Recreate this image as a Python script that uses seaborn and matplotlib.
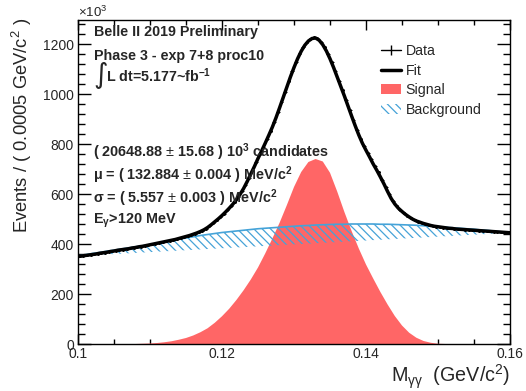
import numpy as np
import matplotlib
matplotlib.use("Agg")
import matplotlib.pyplot as plt
import seaborn as sns
from matplotlib.lines import Line2D
from matplotlib.patches import Patch
from matplotlib.ticker import MultipleLocator, FixedLocator, FixedFormatter

# ---------------- data (values in units of 10^3 events) ----------------
x_edges = [round(0.1 + 0.0005 * k, 4) for k in range(121)]
fit_vals = [350, 352, 354, 356, 358, 360, 363, 365, 367, 370,
            372, 375, 377, 379, 381, 384, 386, 389, 391, 394,
            397, 400, 403, 406, 409, 412, 415, 418, 422, 426,
            430, 434, 439, 444, 450, 457, 466, 477, 489, 501,
            514, 528, 543, 559, 577, 598, 622, 650, 680, 710,
            742, 772, 803, 835, 868, 905, 945, 986, 1027, 1068,
            1106, 1141, 1171, 1195, 1212, 1222, 1224, 1215, 1197, 1172,
            1141, 1106, 1068, 1030, 992, 952, 912, 873, 836, 803,
            775, 748, 720, 695, 668, 640, 610, 582, 560, 543,
            530, 518, 508, 499, 492, 487, 482, 478, 474, 471,
            469, 467, 465, 463, 462, 460, 459, 458, 457, 456,
            455, 454, 453, 452, 451, 450, 449, 448, 447, 446, 445]

bin_centers = [round(0.10025 + 0.0005 * k, 5) for k in range(120)]
data_vals = [351, 353, 355, 357, 359, 362, 364, 366, 369, 371,
             374, 376, 378, 380, 383, 385, 388, 390, 393, 396,
             399, 402, 405, 408, 411, 414, 417, 420, 424, 428,
             432, 437, 442, 447, 454, 462, 472, 484, 496, 508,
             522, 536, 552, 569, 588, 611, 637, 666, 696, 727,
             759, 790, 821, 854, 889, 928, 969, 1010, 1051, 1091,
             1128, 1161, 1188, 1208, 1222, 1230, 1226, 1210, 1189, 1161,
             1128, 1091, 1053, 1015, 976, 936, 896, 858, 822, 792,
             765, 740, 714, 687, 658, 628, 599, 573, 553, 538,
             525, 514, 504, 496, 490, 485, 481, 477, 473, 470,
             468, 466, 464, 463, 461, 460, 459, 458, 457, 456,
             455, 454, 453, 452, 451, 450, 449, 448, 447, 446]
data_err = [1.1] * 120

x_comp = [round(0.1 + 0.001 * k, 3) for k in range(61)]
signal_vals = [0, 0, 0, 0, 0, 0, 0, 0, 0, 1,
               2, 4, 7, 11, 17, 24, 34, 47, 63, 85,
               111, 141, 176, 215, 258, 306, 362, 422, 485, 555,
               628, 688, 728, 740, 730, 685, 610, 528, 452, 382,
               318, 262, 208, 158, 112, 74, 45, 25, 12, 5,
               1, 0, 0, 0, 0, 0, 0, 0, 0, 0, 0]
bkg_vals = [352, 357, 362, 366, 371, 375, 380, 384, 389, 393,
            398, 403, 408, 414, 419, 424, 429, 434, 438, 442,
            446, 449, 452, 455, 458, 461, 463, 465, 467, 469,
            471, 473, 474, 476, 477, 478, 479, 479, 480, 480,
            480, 480, 479, 479, 478, 477, 476, 475, 473, 471,
            469, 467, 465, 463, 461, 459, 456, 454, 451, 448, 445]

xticks = [0.10, 0.12, 0.14, 0.16]
xticklabels = ["0.1", "0.12", "0.14", "0.16"]
yticks = [0, 200, 400, 600, 800, 1000, 1200]

stats_lines = [r"( 20648.88 $\pm$ 15.68 ) 10$^{\mathbf{3}}$ candidates",
               r"μ = ( 132.884 $\pm$ 0.004 ) MeV/c$^{\mathbf{2}}$",
               r"σ = ( 5.557 $\pm$ 0.003 ) MeV/c$^{\mathbf{2}}$",
               r"E$_{\mathbf{γ}}$>120 MeV"]
legend_labels = ["Data", "Fit", "Signal", "Background"]

# ---------------- style ----------------
sns.set_style("ticks")
plt.rcParams["font.family"] = ["Liberation Sans", "DejaVu Sans"]
plt.rcParams["mathtext.fontset"] = "custom"
plt.rcParams["mathtext.rm"] = "Liberation Sans"
plt.rcParams["mathtext.it"] = "Liberation Sans"
plt.rcParams["mathtext.bf"] = "Liberation Sans:bold"
plt.rcParams["mathtext.sf"] = "Liberation Sans"
plt.rcParams["hatch.linewidth"] = 0.9

RED = "#ff6666"
BLUE = "#45a3d8"

W, H = 526, 391
fig = plt.figure(figsize=(W / 100, H / 100), dpi=100)
ax = fig.add_axes([78 / W, 1 - 344 / H, (510 - 78) / W, (344 - 20) / H])

xs = np.array(x_comp)
sig = np.array(signal_vals)
bkg = np.array(bkg_vals)

# signal filled
ax.fill_between(xs, 0, sig, facecolor=RED, edgecolor="none", zorder=1)
# background: ROOT-style filled curve (closed by chord between end points)
chord = np.linspace(bkg[0], bkg[-1], len(xs))
ax.fill_between(xs, chord, bkg, facecolor="none", edgecolor=BLUE,
                hatch="\\\\\\\\", linewidth=0, zorder=2)
sns.lineplot(x=xs, y=bkg, color=BLUE, lw=1.2, ax=ax, zorder=3)
# fit
sns.lineplot(x=np.array(x_edges), y=np.array(fit_vals), color="black",
             lw=2.5, ax=ax, zorder=4)
# data
ax.errorbar(bin_centers, data_vals, xerr=0.00025, yerr=data_err, fmt="o",
            ms=1.1, color="black", ecolor="black", elinewidth=0.7,
            capsize=0, zorder=5)

ax.set_xlim(0.1, 0.16)
ax.set_ylim(0, 1296)
ax.xaxis.set_major_locator(FixedLocator(xticks))
ax.xaxis.set_major_formatter(FixedFormatter(xticklabels))
ax.xaxis.set_minor_locator(MultipleLocator(0.005))
ax.yaxis.set_major_locator(FixedLocator(yticks))
ax.yaxis.set_minor_locator(MultipleLocator(40))
ax.tick_params(which="both", direction="in", top=True, right=True,
               labelsize=10, width=1.0, color="black", pad=3)
ax.tick_params(axis="x", which="major", length=7.0, pad=2)
ax.tick_params(axis="x", which="minor", length=3.5)
ax.tick_params(axis="y", which="major", length=9.5)
ax.tick_params(axis="y", which="minor", length=4.7)
for s in ax.spines.values():
    s.set_linewidth(1.0)
    s.set_color("black")
ax.set_xlabel("")
ax.set_ylabel("")


def ftxt(px, py, s, **kw):
    fig.text(px / W, 1 - py / H, s, **kw)


ftxt(22, 125, r"Events / ( 0.0005 GeV/c$^{2}$ )", rotation=90,
     ha="center", va="center", fontsize=13.2)
ftxt(510, 377, r"M$_{\mathrm{γγ}}$  (GeV/c$^{2}$)", ha="right",
     va="center", fontsize=14.2)
ftxt(78, 12, r"×10$^{3}$", ha="left", va="center", fontsize=9.5)

ftxt(94, 32, "Belle II 2019 Preliminary", ha="left", va="center",
     fontsize=10.3, fontweight="bold")
ftxt(94, 56, "Phase 3 - exp 7+8 proc10", ha="left", va="center",
     fontsize=10.3, fontweight="bold")
ftxt(93, 75, "∫", ha="left", va="center", fontsize=20,
     family=["DejaVu Sans"])
ftxt(106, 76, r"L dt=5.177~fb$^{\mathbf{-1}}$", ha="left", va="center",
     fontsize=10.3, fontweight="bold")

for i, s in enumerate(stats_lines):
    ftxt(93, 152 + 23 * i, s, ha="left", va="center", fontsize=10.4,
         fontweight="bold")

handles = [
    Line2D([0], [0], color="black", lw=1.0, marker="|", ms=7,
           markeredgewidth=1.0),
    Line2D([0], [0], color="black", lw=2.5),
    Patch(facecolor=RED, edgecolor="none"),
    Patch(facecolor="none", edgecolor=BLUE, hatch="\\\\\\\\", linewidth=0),
]
leg = ax.legend(handles, legend_labels, loc="upper left",
                bbox_to_anchor=((381 - 78) / 432, 1 - (44 - 20) / 324),
                frameon=False, fontsize=10.2, handlelength=1.4,
                handletextpad=0.35, labelspacing=0.40, borderpad=0,
                borderaxespad=0)

fig.savefig("out.png", dpi=100)
